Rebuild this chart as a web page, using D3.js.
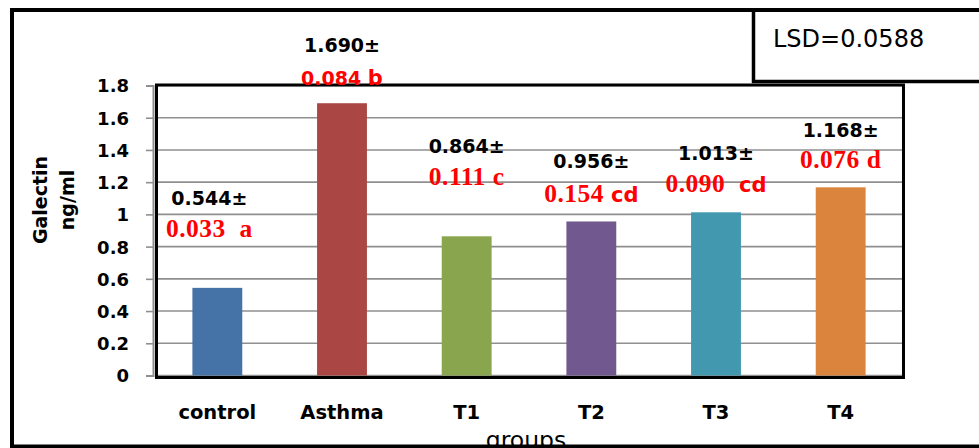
<!DOCTYPE html>
<html>
<head>
<meta charset="utf-8">
<script src="https://cdn.jsdelivr.net/npm/d3@7"></script>
<style>
  html, body { margin: 0; padding: 0; background: #fff; }
  svg { display: block; }
  text { white-space: pre; }
</style>
</head>
<body>
<svg id="chart" width="979" height="448"></svg>
<script>
// ---- data ----
const categories = ["control", "Asthma", "T1", "T2", "T3", "T4"];
const means = [0.544, 1.690, 0.864, 0.956, 1.013, 1.168];
const sems = ["0.033", "0.084", "0.111", "0.154", "0.090", "0.076"];
const letters = ["a", "b", "c", "cd", "cd", "d"];
const sepSpaces = ["  ", " ", " ", " ", "  ", " "];
const barColors = ["#4572A7", "#AA4643", "#89A54E", "#71588F", "#4198AF", "#DB843D"];
const yTickValues = [0, 0.2, 0.4, 0.6, 0.8, 1, 1.2, 1.4, 1.6, 1.8];
const yTickLabels = ["0", "0.2", "0.4", "0.6", "0.8", "1", "1.2", "1.4", "1.6", "1.8"];
const yTitleLines = ["Galectin", "ng/ml"];
const xTitle = "groups";
const lsdText = "LSD=0.0588";

// ---- annotation layout (value units, kept apart from data) ----
const meanLabelAt = [1.058, 2.008, 1.381, 1.286, 1.338, 1.480];
const semLabelAt = [0.860, 1.803, 1.183, 1.080, 1.139, 1.285];
const labelShift = [-8, 0, 0, 0, 0, 0];
const semSerif = [true, false, true, true, true, true];
const letterSerif = [true, false, true, false, false, true];

const svg = d3.select("#chart");
const W = 979, H = 448;
const plot = { left: 155, right: 903, top: 85.5, bottom: 375.5 };

const x = d3.scaleBand().domain(categories)
  .range([plot.left, plot.right]).paddingInner(0.6).paddingOuter(0.3);
const y = d3.scaleLinear().domain([0, 1.8]).range([plot.bottom, plot.top]);

const SANS = "'DejaVu Sans', sans-serif";
const SERIF = "'Liberation Serif', 'Times New Roman', serif";

svg.append("rect").attr("width", W).attr("height", H).attr("fill", "#fff");

// gridlines
svg.append("g").selectAll("line").data(yTickValues).join("line")
  .attr("x1", plot.left).attr("x2", plot.right - 1)
  .attr("y1", d => y(d)).attr("y2", d => y(d))
  .attr("stroke", "#8f8f8f").attr("stroke-width", 1.6);

// y axis (gray line + ticks + labels)
const yAxis = d3.axisLeft(y).tickValues(yTickValues)
  .tickFormat((d, i) => yTickLabels[i]).tickSizeOuter(0).tickSize(7).tickPadding(17);
const ga = svg.append("g").attr("transform", `translate(${plot.left - 2},0)`).call(yAxis);
ga.select(".domain").attr("stroke", "#8f8f8f").attr("stroke-width", 2);
ga.selectAll(".tick line").attr("stroke", "#8f8f8f").attr("stroke-width", 1.6);
ga.selectAll(".tick text").attr("font-family", SANS).attr("font-weight", "bold")
  .attr("font-size", 18).attr("fill", "#000").attr("dy", "0.36em");

// bars
svg.append("g").selectAll("rect").data(categories).join("rect")
  .attr("x", d => x(d)).attr("width", x.bandwidth())
  .attr("y", (d, i) => y(means[i])).attr("height", (d, i) => y(0) - y(means[i]))
  .attr("fill", (d, i) => barColors[i]);

// black plot frame
svg.append("rect")
  .attr("x", plot.left + 1.5).attr("y", plot.top - 0.5)
  .attr("width", plot.right - plot.left - 1).attr("height", plot.bottom - plot.top + 2.5)
  .attr("fill", "none").attr("stroke", "#000").attr("stroke-width", 3);

// category labels
svg.append("g").selectAll("text").data(categories).join("text")
  .attr("x", d => x(d) + x.bandwidth() / 2).attr("y", 418.5)
  .attr("text-anchor", "middle").attr("font-family", SANS).attr("font-weight", "bold")
  .attr("font-size", 19.5).attr("fill", "#000").text(d => d);

// mean labels
const fmt = d3.format(".3f");
svg.append("g").selectAll("text").data(categories).join("text")
  .attr("x", (d, i) => x(d) + x.bandwidth() / 2 + labelShift[i])
  .attr("y", (d, i) => y(meanLabelAt[i]))
  .attr("text-anchor", "middle").attr("font-family", SANS).attr("font-weight", "bold")
  .attr("font-size", 19).attr("fill", "#000")
  .text((d, i) => fmt(means[i]) + "±");

// sem + letter labels (red)
const red = svg.append("g").selectAll("text").data(categories).join("text")
  .attr("x", (d, i) => x(d) + x.bandwidth() / 2 + labelShift[i])
  .attr("y", (d, i) => y(semLabelAt[i]))
  .attr("text-anchor", "middle").attr("font-weight", "bold").attr("fill", "#FF0000");
red.each(function (d, i) {
  const t = d3.select(this);
  t.append("tspan")
    .attr("font-family", semSerif[i] ? SERIF : SANS)
    .attr("font-size", semSerif[i] ? 25.5 : 19)
    .attr("letter-spacing", semSerif[i] ? 0.5 : 0)
    .text(sems[i] + sepSpaces[i]);
  t.append("tspan")
    .attr("font-family", letterSerif[i] ? SERIF : SANS)
    .attr("font-size", letterSerif[i] ? 25.5 : 21)
    .attr("letter-spacing", letterSerif[i] ? 0.5 : 0)
    .text(letters[i]);
});

// y title
const yt = svg.append("text")
  .attr("transform", "translate(0,200) rotate(-90)")
  .attr("text-anchor", "middle").attr("font-family", SANS).attr("font-weight", "bold")
  .attr("font-size", 19).attr("fill", "#000");
yt.selectAll("tspan").data(yTitleLines).join("tspan")
  .attr("x", 0).attr("y", (d, i) => 47 + i * 27).text(d => d);

// x title (partly covered by the bottom frame, as in the reference)
svg.append("text").attr("x", 526).attr("y", 448).attr("text-anchor", "middle")
  .attr("font-family", SANS).attr("font-size", 23.5).attr("fill", "#000").text(xTitle);

// outer frame
svg.append("rect").attr("x", 12).attr("y", 10).attr("width", 1000).attr("height", 436.5)
  .attr("fill", "none").attr("stroke", "#000").attr("stroke-width", 4);

// LSD box
svg.append("line").attr("x1", 753.5).attr("x2", 753.5).attr("y1", 10).attr("y2", 83)
  .attr("stroke", "#000").attr("stroke-width", 3.5);
svg.append("line").attr("x1", 752).attr("x2", 979).attr("y1", 81.5).attr("y2", 81.5)
  .attr("stroke", "#000").attr("stroke-width", 3.5);
svg.append("text").attr("x", 773).attr("y", 46.5)
  .attr("font-family", SANS).attr("font-size", 24).attr("fill", "#000").text(lsdText);
</script>
</body>
</html>
